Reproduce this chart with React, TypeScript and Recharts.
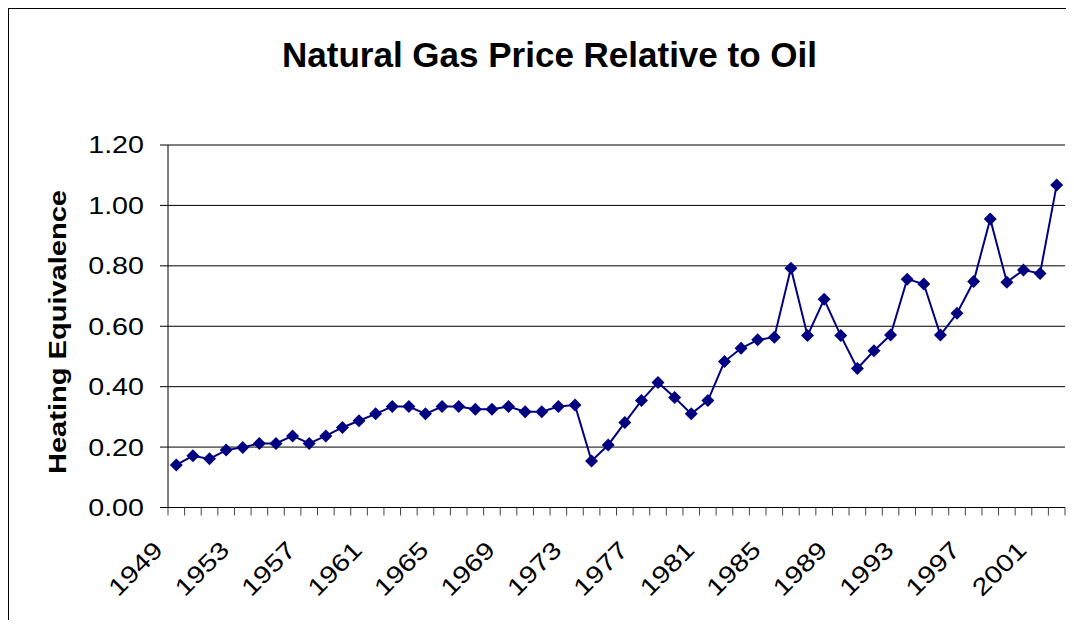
import React from "react";
import {
  LineChart,
  Line,
  XAxis,
  YAxis,
  CartesianGrid,
} from "recharts";

const YEARS = [
  1949, 1950, 1951, 1952, 1953, 1954, 1955, 1956, 1957, 1958,
  1959, 1960, 1961, 1962, 1963, 1964, 1965, 1966, 1967, 1968,
  1969, 1970, 1971, 1972, 1973, 1974, 1975, 1976, 1977, 1978,
  1979, 1980, 1981, 1982, 1983, 1984, 1985, 1986, 1987, 1988,
  1989, 1990, 1991, 1992, 1993, 1994, 1995, 1996, 1997, 1998,
  1999, 2000, 2001, 2002,
];

// gas price / oil price, heating equivalent basis
const RATIO = [
  0.141, 0.171, 0.161, 0.19, 0.199, 0.212, 0.212, 0.237, 0.212, 0.237,
  0.265, 0.287, 0.31, 0.334, 0.334, 0.31, 0.334, 0.334, 0.325, 0.325,
  0.334, 0.317, 0.317, 0.334, 0.339, 0.154, 0.207, 0.281, 0.354, 0.414,
  0.364, 0.31, 0.354, 0.483, 0.527, 0.555, 0.564, 0.792, 0.569, 0.689,
  0.569, 0.46, 0.519, 0.571, 0.756, 0.74, 0.571, 0.643, 0.748, 0.955,
  0.746, 0.786, 0.775, 1.068,
];

const LABEL_YEARS = [
  1949, 1953, 1957, 1961, 1965, 1969, 1973, 1977, 1981, 1985, 1989, 1993,
  1997, 2001,
];

const Y_TICKS = [0, 0.2, 0.4, 0.6, 0.8, 1.0, 1.2];

const NAVY = "#000080";
const FONT = '"Liberation Sans", Arial, sans-serif';

const data = YEARS.map((year, i) => ({ idx: i, year, ratio: RATIO[i] }));
const boundaryTicks = [...YEARS.map((_, i) => i - 0.5), YEARS.length - 0.5];
const labelTicks = LABEL_YEARS.map((y) => YEARS.indexOf(y));

const YTick = ({ x, y, payload }: any) => (
  <g transform={`translate(${x},${y}) scale(1.22,1)`}>
    <text x={0} y={0} dy="0.358em" textAnchor="end" fill="#000" fontSize={23.5} fontFamily={FONT}>
      {Number(payload.value).toFixed(2)}
    </text>
  </g>
);

const XTick = ({ x, y, payload }: any) => (
  <g transform={`translate(${x - 12},${y + 34}) rotate(-45) scale(1.22,1)`}>
    <text x={0} y={0} textAnchor="end" fill="#000" fontSize={24} fontFamily={FONT}>
      {YEARS[payload.value]}
    </text>
  </g>
);

const NoLabel = () => <g />;

const Diamond = ({ cx, cy, index }: any) => (
  <path
    key={index}
    d={`M${cx},${cy - 6.5}L${cx + 6.5},${cy}L${cx},${cy + 6.5}L${cx - 6.5},${cy}Z`}
    fill={NAVY}
  />
);

export default function App() {
  return (
    <div style={{ position: "relative", width: 1058, height: 612, fontFamily: FONT }}>
      <div
        style={{
          position: "absolute",
          left: -1,
          top: -1,
          width: 1066,
          height: 620,
          borderTop: "2px solid #000",
          borderLeft: "2px solid #000",
          boxSizing: "border-box",
        }}
      />
      <div
        style={{
          position: "absolute",
          left: 0,
          top: 29,
          width: 1083,
          textAlign: "center",
          fontSize: 35,
          lineHeight: "35px",
          fontWeight: "bold",
          whiteSpace: "nowrap",
        }}
      >
        Natural Gas Price Relative to Oil
      </div>
      <div
        style={{
          position: "absolute",
          left: 49.5,
          top: 323.5,
          transform: "translate(-50%,-50%) rotate(-90deg) scaleX(1.21)",
          fontSize: 24,
          lineHeight: 1,
          fontWeight: "bold",
          whiteSpace: "nowrap",
        }}
      >
        Heating Equivalence
      </div>
      <LineChart
        width={1058}
        height={612}
        data={data}
        margin={{ top: 137, right: 1, bottom: 0, left: 0 }}
      >
        <CartesianGrid
          xAxisId="b_labels"
          yAxisId="left"
          vertical={false}
          stroke="#000"
          strokeOpacity={1}
        />
        <XAxis
          xAxisId="a_ticks"
          dataKey="idx"
          type="number"
          domain={[-0.5, YEARS.length - 0.5]}
          allowDataOverflow
          ticks={boundaryTicks}
          interval={0}
          tick={<NoLabel />}
          tickSize={8}
          tickLine={{ stroke: "#444", strokeWidth: 1 }}
          axisLine={{ stroke: "#000" }}
          height={10}
        />
        <XAxis
          xAxisId="b_labels"
          dataKey="idx"
          type="number"
          domain={[-0.5, YEARS.length - 0.5]}
          allowDataOverflow
          ticks={labelTicks}
          interval={0}
          tick={<XTick />}
          tickSize={0}
          tickMargin={0}
          tickLine={false}
          axisLine={false}
          height={102.5}
        />
        <YAxis
          yAxisId="left"
          domain={[0, 1.2]}
          ticks={Y_TICKS}
          interval={0}
          allowDataOverflow
          width={160}
          tickSize={8}
          tickMargin={16}
          tick={<YTick />}
          tickLine={{ stroke: "#000" }}
          axisLine={{ stroke: "#000" }}
        />
        <YAxis
          yAxisId="right"
          orientation="right"
          domain={[0, 1.2]}
          width={0}
          tick={false}
          tickLine={false}
          axisLine={{ stroke: "#000" }}
        />
        <Line
          xAxisId="b_labels"
          yAxisId="left"
          dataKey="ratio"
          stroke={NAVY}
          strokeWidth={2}
          dot={<Diamond />}
          activeDot={false}
          isAnimationActive={false}
        />
      </LineChart>
    </div>
  );
}
